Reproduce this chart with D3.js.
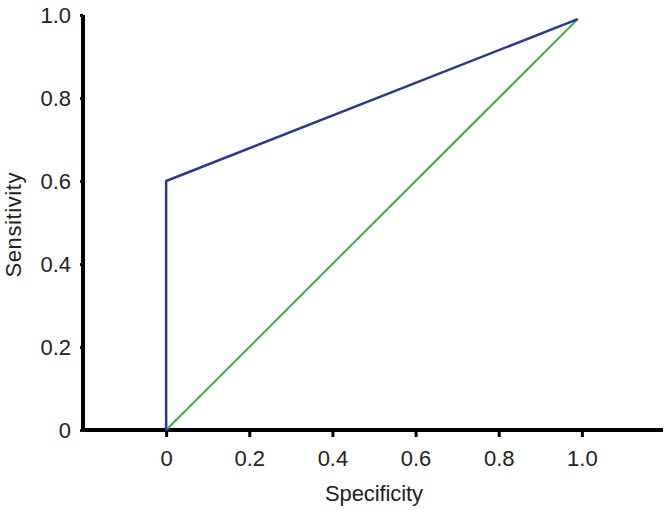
<!DOCTYPE html>
<html>
<head>
<meta charset="utf-8">
<script src="https://cdn.jsdelivr.net/npm/d3@7"></script>
<style>
  body { margin: 0; background: #fff; }
  text { font-family: "Liberation Sans", Arial, sans-serif; fill: #222; }
</style>
</head>
<body>
<svg width="667" height="510"></svg>
<script>
// ROC curve values
var rocSpec = [0, 0, 0.99];
var rocSens = [0, 0.6, 0.99];
var refSpec = [0, 0.99];
var refSens = [0, 0.99];
var xTicks = [0, 0.2, 0.4, 0.6, 0.8, 1.0];
var yTicks = [0, 0.2, 0.4, 0.6, 0.8, 1.0];

var svg = d3.select("svg");

var x = d3.scaleLinear().domain([-0.2, 1.2]).range([83, 665]);
var y = d3.scaleLinear().domain([0, 1]).range([430, 15]);

function fmt(d) { return d === 0 ? "0" : d3.format(".1f")(d); }

// x axis
var xAxis = svg.append("g").attr("transform", "translate(0," + y(0) + ")")
    .call(d3.axisBottom(x).tickValues(xTicks).tickFormat(fmt).tickSize(7).tickPadding(13));
xAxis.select(".domain").attr("d", "M81,0H663").attr("stroke", "#000").attr("stroke-width", 4);
xAxis.selectAll(".tick line").attr("stroke", "#000").attr("stroke-width", 3);
xAxis.selectAll(".tick text").style("font-size", "22px").attr("fill", "#222");

// y axis
var yAxis = svg.append("g").attr("transform", "translate(" + x(-0.2) + ",0)")
    .call(d3.axisLeft(y).tickValues(yTicks).tickFormat(fmt).tickSize(3).tickPadding(9));
yAxis.select(".domain").attr("d", "M0,432V15").attr("stroke", "#000").attr("stroke-width", 4);
yAxis.selectAll(".tick line").attr("stroke", "#000").attr("stroke-width", 3);
yAxis.selectAll(".tick text").style("font-size", "22px").attr("fill", "#222");

var line = d3.line().x(function(d) { return x(d[0]); }).y(function(d) { return y(d[1]); });

// reference diagonal
svg.append("path")
    .datum(d3.zip(refSpec, refSens))
    .attr("d", line)
    .attr("fill", "none")
    .attr("stroke", "#35b04a")
    .attr("stroke-width", 2);

// ROC curve
svg.append("path")
    .datum(d3.zip(rocSpec, rocSens))
    .attr("d", line)
    .attr("fill", "none")
    .attr("stroke", "#283a90")
    .attr("stroke-width", 2.5)
    .attr("stroke-linejoin", "round");

// axis titles
svg.append("text")
    .attr("x", 374).attr("y", 501)
    .attr("text-anchor", "middle")
    .attr("textLength", 98)
    .style("font-size", "22px")
    .text("Specificity");

svg.append("text")
    .attr("transform", "translate(21,225) rotate(-90)")
    .attr("text-anchor", "middle")
    .attr("textLength", 105)
    .style("font-size", "22px")
    .text("Sensitivity");
</script>
</body>
</html>
